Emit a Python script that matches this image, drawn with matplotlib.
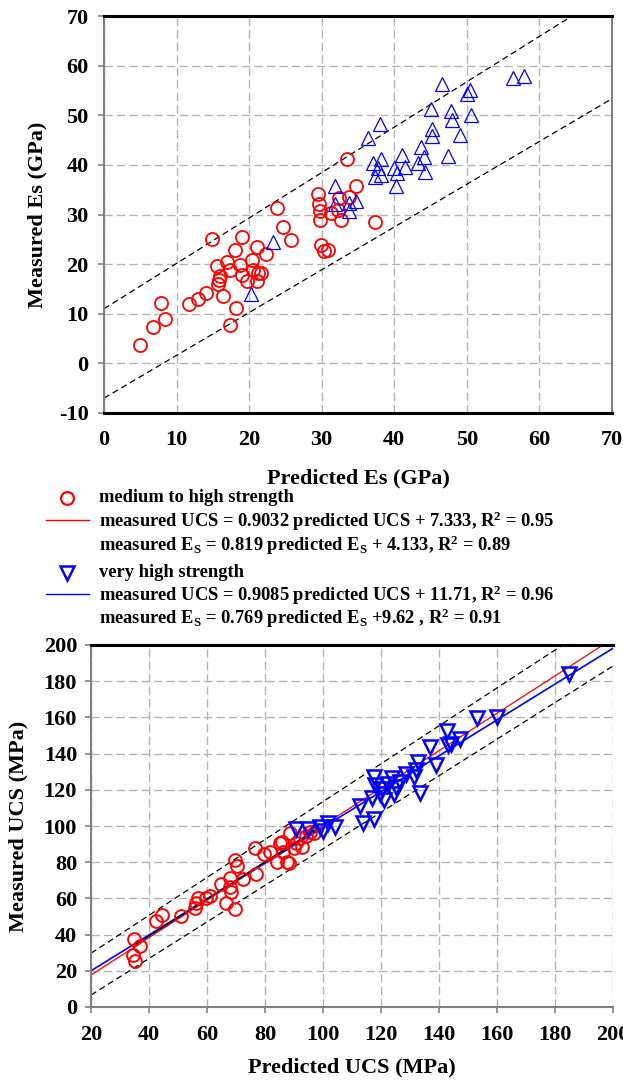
import numpy as np
import matplotlib
matplotlib.use("Agg")
import matplotlib.pyplot as plt
from matplotlib.lines import Line2D


FIG_W, FIG_H = 623, 1083
DPI = 100

RED = "#ff0000"
BLUE = "#0000ff"
GRID_GREY = "#b4b4b4"
SPINE_GREY = "#808080"

# --- Es (GPa): predicted vs measured ---
es_mid_pred = [4.9, 6.7, 7.9, 8.4, 11.7, 12.9, 14.0, 14.9, 15.6, 15.7, 15.8, 16.0,
               16.4, 17.3, 17.0, 17.4, 18.1, 18.2, 18.8, 19.0, 19.0, 19.7, 20.4,
               20.6, 21.1, 21.2, 21.1, 21.6, 22.3, 23.8, 24.6, 25.8, 29.5, 29.6,
               29.8, 29.7, 29.9, 30.3, 30.8, 31.3, 32.2, 32.4, 32.7, 33.5, 33.8,
               34.7, 37.4]
es_mid_meas = [3.7, 7.4, 12.2, 9.0, 12.0, 13.0, 14.2, 25.1, 19.7, 15.9, 16.9, 17.7,
               13.6, 7.7, 20.4, 18.9, 22.8, 11.2, 19.8, 25.5, 17.9, 16.7, 20.9,
               18.9, 23.5, 18.2, 16.7, 18.3, 22.1, 31.4, 27.5, 24.9, 34.1, 32.1,
               30.7, 28.9, 23.9, 22.6, 22.9, 30.4, 30.9, 33.3, 28.9, 41.2, 33.5,
               35.8, 28.5]

es_vhigh_pred = [20.2, 23.3, 31.8, 31.8, 33.7, 33.7, 34.7, 36.4, 38.1, 37.1, 37.3,
                 37.7, 38.2, 38.2, 40.0, 40.2, 40.4, 41.0, 41.5, 43.2, 43.7, 44.1,
                 44.2, 45.1, 45.2, 45.2, 46.6, 47.4, 47.8, 47.9, 49.1, 50.0, 50.4,
                 50.6, 56.4, 57.9]
es_vhigh_meas = [13.9, 24.5, 35.8, 32.1, 32.3, 30.8, 32.7, 45.4, 48.2, 40.3, 37.6,
                 39.3, 41.2, 38.0, 39.3, 35.8, 38.3, 41.9, 39.6, 40.3, 43.6, 41.6,
                 38.6, 51.3, 47.3, 45.8, 56.2, 41.8, 50.8, 49.0, 46.0, 54.3, 55.0,
                 50.1, 57.5, 58.0]

# dashed bounds (intercept, slope)
es_bounds = [(11.0, 0.915), (-7.0, 0.862)]

# --- UCS (MPa): predicted vs measured ---
ucs_mid_pred = [34.8, 34.4, 35.1, 36.8, 42.4, 44.5, 50.9, 55.7, 56.1, 56.8, 59.6,
                61.2, 64.7, 66.7, 67.8, 68.1, 68.4, 69.5, 69.7, 70.4, 72.5, 76.9,
                76.7, 79.8, 81.8, 84.2, 85.0, 85.7, 86.2, 87.6, 88.4, 88.7, 90.1,
                90.8, 92.1, 92.8, 94.2, 95.6, 96.9]
ucs_mid_meas = [37.6, 29.0, 25.3, 33.9, 47.3, 50.8, 50.4, 54.6, 57.4, 60.1, 60.1,
                61.4, 68.0, 57.7, 66.5, 71.1, 63.8, 54.1, 81.2, 77.9, 70.6, 73.3,
                87.6, 84.3, 85.8, 80.3, 90.4, 91.3, 85.8, 80.3, 79.4, 96.2, 87.6,
                90.4, 93.1, 88.5, 94.4, 96.8, 95.9]

ucs_vhigh_pred = [90.8, 94.9, 99.0, 100.0, 101.8, 104.1, 112.7, 113.7, 117.6, 116.9,
                  117.6, 118.0, 119.6, 120.3, 121.0, 122.4, 123.7, 124.4, 125.1,
                  126.5, 128.5, 131.3, 132.7, 133.6, 132.0, 136.8, 138.9, 142.6,
                  143.0, 144.3, 147.1, 153.0, 159.9, 184.9]
ucs_vhigh_meas = [98.3, 98.6, 99.2, 97.2, 101.7, 99.2, 111.1, 101.7, 103.6, 115.7,
                  127.0, 122.5, 117.9, 120.6, 114.2, 123.0, 126.5, 117.9, 121.5,
                  124.3, 128.9, 127.0, 135.3, 118.4, 130.7, 143.9, 133.5, 152.3,
                  144.5, 145.4, 148.1, 159.7, 160.4, 183.9]

# trend lines (intercept, slope)
ucs_red_fit = (-3.0, 1.033)
ucs_blue_fit = (0.2, 0.99)
ucs_mid_fit = (-1.5, 1.02)
ucs_mid_fit_range = (34.5, 97.0)
ucs_bounds = [(8.76, 1.047), (-13.6, 1.01)]

legend_rows = [
    "medium to high strength",
    "measured UCS = 0.9032 predicted UCS + 7.333, R$^2$ = 0.95",
    "measured E$_S$ = 0.819 predicted E$_S$ + 4.133, R$^2$ = 0.89",
    "very high strength",
    "measured UCS = 0.9085 predicted UCS + 11.71, R$^2$ = 0.96",
    "measured E$_S$ = 0.769 predicted E$_S$ +9.62 , R$^2$ = 0.91",
]

plt.rcParams["font.family"] = ["Liberation Serif", "DejaVu Serif"]
plt.rcParams["font.weight"] = "bold"
plt.rcParams["mathtext.default"] = "regular"
plt.rcParams["axes.unicode_minus"] = False

TICK_FS = 16
LABEL_FS = 16
LEGEND_FS = 13.3


def px_box(left, top, right, bottom):
    return [left / FIG_W, 1 - bottom / FIG_H, (right - left) / FIG_W, (bottom - top) / FIG_H]


def style_axes(ax):
    ax.grid(True, color=GRID_GREY, linestyle=(0, (6, 3)), linewidth=1.0)
    ax.set_axisbelow(True)
    for side in ("top", "bottom", "left", "right"):
        ax.spines[side].set_color(SPINE_GREY)
        ax.spines[side].set_linewidth(1.5)
    ax.spines["top"].set_color("black")
    ax.spines["top"].set_linewidth(2.2)
    ax.tick_params(labelsize=TICK_FS, color=SPINE_GREY, width=1.2, length=4, direction="out")
    for lab in ax.get_xticklabels() + ax.get_yticklabels():
        lab.set_fontweight("bold")


def draw_line(ax, coef, x0, x1, **kw):
    xs = np.array([x0, x1])
    ax.plot(xs, coef[0] + coef[1] * xs, **kw)


def main():
    fig = plt.figure(figsize=(FIG_W / DPI, FIG_H / DPI), dpi=DPI)

    # Es panel
    ax1 = fig.add_axes(px_box(104, 16, 612, 413))
    ax1.set_xlim(0, 70)
    ax1.set_ylim(-10, 70)
    ax1.set_xticks(np.arange(0, 71, 10))
    ax1.set_yticks(np.arange(-10, 71, 10))
    style_axes(ax1)
    ax1.spines["bottom"].set_color("black")
    ax1.spines["bottom"].set_linewidth(2.2)
    ax1.tick_params(axis="x", length=0, pad=12)
    ax1.tick_params(axis="y", pad=7)

    for coef in es_bounds:
        draw_line(ax1, coef, 0, 70, color="black", linestyle=(0, (5, 3)), linewidth=0.9)

    ax1.plot(es_mid_pred, es_mid_meas, "o", ms=9.4, mfc="none", mec=RED, mew=1.3)
    ax1.plot(es_vhigh_pred, es_vhigh_meas, "^", ms=9.5, mfc="none", mec=BLUE, mew=0.9)

    ax1.set_ylabel("Measured Es (GPa)", fontsize=LABEL_FS, fontweight="bold")
    ax1.set_xlabel("Predicted Es (GPa)", fontsize=LABEL_FS, fontweight="bold")
    ax1.yaxis.label.set_va("center")
    ax1.yaxis.set_label_coords((37 - 104) / 508, 0.5)
    ax1.xaxis.label.set_va("center")
    ax1.xaxis.set_label_coords(0.5, (413 - 478) / 397)

    # UCS panel
    ax2 = fig.add_axes(px_box(91, 645, 613, 1007))
    ax2.set_xlim(20, 200)
    ax2.set_ylim(0, 200)
    ax2.set_xticks(np.arange(20, 201, 20))
    ax2.set_yticks(np.arange(0, 201, 20))
    style_axes(ax2)
    ax2.spines["right"].set_visible(False)
    ax2.tick_params(axis="x", pad=9)
    ax2.tick_params(axis="y", pad=6)

    for coef in ucs_bounds:
        draw_line(ax2, coef, 20, 200, color="black", linestyle=(0, (5, 3)), linewidth=0.9)
    draw_line(ax2, ucs_blue_fit, 20, 200, color=BLUE, linewidth=1.2)
    draw_line(ax2, ucs_red_fit, 20, 200, color=RED, linewidth=0.9)
    draw_line(ax2, ucs_mid_fit, *ucs_mid_fit_range, color="#000050", linewidth=1.3)

    ax2.plot(ucs_mid_pred, ucs_mid_meas, "o", ms=9.2, mfc="none", mec=RED, mew=1.4)
    ax2.plot(ucs_vhigh_pred, ucs_vhigh_meas, "v", ms=10.0, mfc="none", mec=BLUE, mew=1.8)

    ax2.set_ylabel("Measured UCS (MPa)", fontsize=LABEL_FS, fontweight="bold")
    ax2.set_xlabel("Predicted UCS (MPa)", fontsize=LABEL_FS, fontweight="bold")
    ax2.yaxis.label.set_va("center")
    ax2.yaxis.set_label_coords((18 - 91) / 522, 0.5)
    ax2.xaxis.label.set_va("center")
    ax2.xaxis.set_label_coords(0.5, (1007 - 1067) / 362)

    # legend block between the panels
    row_y = [497, 522, 546, 572, 596, 619]
    for text, y in zip(legend_rows, row_y):
        fig.text(99 / FIG_W, 1 - (y + 5) / FIG_H, text, fontsize=LEGEND_FS,
                 fontweight="bold", ha="left", va="baseline")

    fig.add_artist(Line2D([67 / FIG_W], [1 - 498 / FIG_H], marker="o", ms=9.2,
                          mfc="none", mec=RED, mew=1.6, linestyle="none"))
    fig.add_artist(Line2D([46 / FIG_W, 89 / FIG_W], [1 - 520 / FIG_H] * 2,
                          color=RED, linewidth=1.0))
    fig.add_artist(Line2D([67 / FIG_W], [1 - 573 / FIG_H], marker="v", ms=9.5,
                          mfc="none", mec=BLUE, mew=1.8, linestyle="none"))
    fig.add_artist(Line2D([46 / FIG_W, 89 / FIG_W], [1 - 594 / FIG_H] * 2,
                          color=BLUE, linewidth=1.0))

    fig.savefig("out.png", dpi=DPI, facecolor="white")
    plt.close(fig)


if __name__ == "__main__":
    main()
